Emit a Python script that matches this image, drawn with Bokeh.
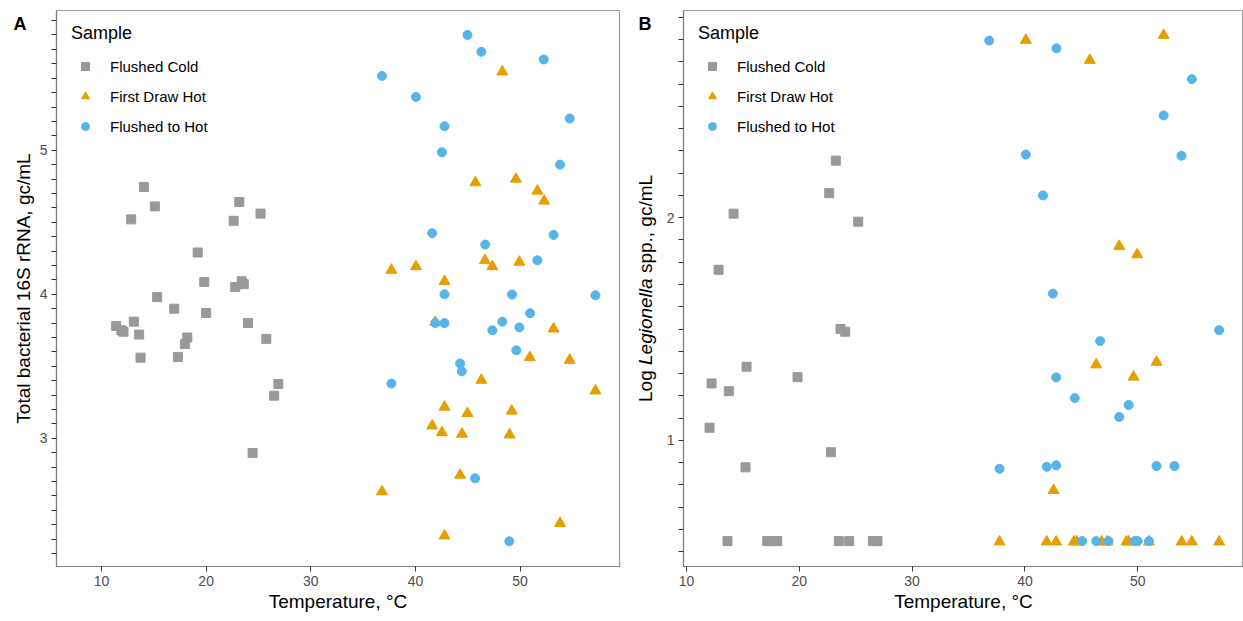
import math
import numpy as np
from bokeh.plotting import figure
from bokeh.models import Range1d, FixedTicker, Legend, LegendItem, Label
from bokeh.layouts import row
from bokeh.embed import file_html
from bokeh.resources import INLINE

FONT = "Liberation Sans"
C_COLD = "#999999"
C_FDH = "#E69F00"
C_FTH = "#56B4E9"

series_names = ["Flushed Cold", "First Draw Hot", "Flushed to Hot"]
x_ticks = [10, 20, 30, 40, 50]

# ---------------- Panel A: total bacterial 16S rRNA ----------------
cold_a_temp = [14.05, 15.1, 12.84, 23.17, 22.63, 25.2, 19.19, 19.82, 22.78, 23.4, 23.6, 15.32, 16.95, 20.0,
               24.0, 11.4, 11.9, 12.1, 13.09, 13.6, 13.73, 17.3, 17.97, 18.2, 25.75, 26.9, 26.5, 24.44]
cold_a_val = [4.745, 4.61, 4.52, 4.64, 4.51, 4.56, 4.29, 4.085, 4.05, 4.09, 4.07, 3.98, 3.90, 3.87,
              3.80, 3.78, 3.75, 3.74, 3.81, 3.72, 3.56, 3.565, 3.655, 3.70, 3.69, 3.377, 3.296, 2.898]

fdh_a_temp = [48.3, 45.73, 49.6, 51.65, 52.3, 37.7, 40.05, 46.64, 47.35, 49.93, 42.78, 41.9, 53.2, 50.93,
              54.74, 46.3, 57.2, 42.78, 44.97, 49.2, 41.6, 42.53, 44.45, 49.0, 44.27, 36.8, 53.82, 42.78]
fdh_a_val = [5.545, 4.775, 4.80, 4.717, 4.648, 4.168, 4.193, 4.235, 4.193, 4.224, 4.09, 3.805, 3.76, 3.561,
             3.543, 3.404, 3.33, 3.217, 3.173, 3.19, 3.087, 3.04, 3.03, 3.025, 2.745, 2.63, 2.41, 2.323]

fth_a_temp = [44.97, 46.3, 52.26, 36.8, 40.05, 54.74, 42.78, 42.53, 53.82, 41.6, 53.2, 46.67, 51.65, 42.78,
              49.23, 57.2, 50.96, 48.3, 41.9, 42.78, 47.35, 49.93, 49.64, 44.27, 44.43, 37.7, 45.7, 48.97]
fth_a_val = [5.80, 5.683, 5.63, 5.516, 5.37, 5.22, 5.167, 4.986, 4.90, 4.424, 4.412, 4.345, 4.236, 4.0,
             3.998, 3.993, 3.868, 3.81, 3.80, 3.80, 3.75, 3.77, 3.611, 3.519, 3.465, 3.38, 2.722, 2.285]

a_y_labels = [3, 4, 5]

# ---------------- Panel B: Legionella spp. ----------------
cold_b_temp = [23.24, 22.65, 25.22, 14.17, 12.84, 23.65, 24.07, 15.32, 12.22, 13.75, 19.84, 12.04, 22.8,
               15.23, 13.63, 17.15, 17.6, 18.04, 23.5, 24.42, 26.52, 26.93]
cold_b_val = [2.256, 2.11, 1.982, 2.018, 1.766, 1.50, 1.488, 1.331, 1.256, 1.221, 1.284, 1.057, 0.947,
              0.879, 0.548, 0.548, 0.548, 0.548, 0.548, 0.548, 0.548, 0.548]

fdh_b_temp = [40.08, 52.3, 45.75, 48.36, 49.95, 46.32, 51.67, 49.63, 42.54, 37.75, 41.94, 42.77, 44.34,
              44.6, 46.8, 47.3, 49.0, 49.2, 51.0, 53.9, 54.8, 57.22]
fdh_b_val = [2.797, 2.819, 2.707, 1.872, 1.834, 1.34, 1.352, 1.285, 0.776, 0.545, 0.545, 0.545, 0.545,
             0.545, 0.545, 0.545, 0.545, 0.545, 0.545, 0.545, 0.545, 0.545]

fth_b_temp = [36.83, 42.8, 54.8, 52.3, 40.08, 53.88, 41.6, 42.48, 57.22, 46.67, 42.77, 44.42, 49.2, 48.36,
              37.75, 41.94, 42.77, 51.67, 53.26, 45.08, 46.32, 47.41, 49.72, 50.0, 51.0]
fth_b_val = [2.795, 2.76, 2.622, 2.459, 2.283, 2.278, 2.10, 1.659, 1.495, 1.446, 1.283, 1.19, 1.159, 1.105,
             0.873, 0.882, 0.888, 0.885, 0.885, 0.548, 0.548, 0.548, 0.548, 0.548, 0.548]

b_y_labels = [1, 2]

H = 621
TOP = 10
BOTTOM = 55


def style_axes(p, y_major, y_minor):
    p.xaxis.ticker = FixedTicker(ticks=x_ticks)
    p.yaxis.ticker = FixedTicker(ticks=y_major, minor_ticks=y_minor)
    for ax in (p.xaxis[0], p.yaxis[0]):
        ax.axis_line_color = "#7F7F7F"
        ax.axis_line_width = 1.2
        ax.major_tick_line_color = "#333333"
        ax.minor_tick_line_color = "#333333"
        ax.major_tick_out = 5
        ax.major_tick_in = 0
        ax.minor_tick_out = 5
        ax.minor_tick_in = 0
        ax.major_label_standoff = 4
        ax.major_label_text_font = FONT
        ax.major_label_text_font_size = "14px"
        ax.major_label_text_color = "#4D4D4D"
        ax.axis_label_text_font = FONT
        ax.axis_label_text_font_size = "19px"
        ax.axis_label_text_font_style = "normal"
        ax.axis_label_text_color = "#000000"
    p.xaxis.axis_label = "Temperature, °C"
    p.xaxis.axis_label_standoff = 2
    p.xaxis[0].minor_tick_out = 0
    p.grid.visible = False
    p.outline_line_color = "#9A9A9A"
    p.outline_line_width = 1.2


def add_points(p, data):
    (ct, cv), (ft, fv), (ht, hv) = data
    r1 = p.scatter(ct, cv, marker="square", size=9, color=C_COLD)
    r2 = p.scatter(ft, fv, marker="triangle", size=11, color=C_FDH)
    r3 = p.scatter(ht, hv, marker="circle", size=9, color=C_FTH)
    legend = Legend(
        items=[LegendItem(label=series_names[0], renderers=[r1]),
               LegendItem(label=series_names[1], renderers=[r2]),
               LegendItem(label=series_names[2], renderers=[r3])],
        location=(19, 430), padding=0, margin=0, spacing=10,
        glyph_width=20, glyph_height=20, label_height=20, label_standoff=15,
        label_text_font=FONT, label_text_font_size="15px", label_text_color="#000000",
        border_line_color=None, background_fill_alpha=0,
    )
    p.add_layout(legend)
    p.add_layout(Label(x=p.x_range.start, y=p.y_range.end, x_offset=14.5, y_offset=-22,
                       text="Sample", text_font=FONT, text_font_size="18px",
                       text_baseline="alphabetic", text_align="left", text_color="#000000"))


def minor_list(lo, hi, major):
    vals = [round(v, 1) for v in np.arange(lo, hi + 0.001, 0.1)]
    return [v for v in vals if v not in major]


def strip(width):
    # label strip whose data units equal page pixels (y measured from the top)
    s = figure(width=width, height=H, x_range=Range1d(0, width), y_range=Range1d(H - BOTTOM, TOP),
               output_backend="svg", toolbar_location=None,
               x_axis_location=None, y_axis_location=None,
               min_border_left=0, min_border_right=0,
               min_border_top=TOP, min_border_bottom=BOTTOM,
               background_fill_color="white", border_fill_color="white")
    s.outline_line_color = None
    s.grid.visible = False
    return s


# ---- left label strip for A
sA = strip(36)
sA.add_layout(Label(x=13, y=23, text="A", text_font=FONT, text_font_size="18px",
                    text_font_style="bold", text_baseline="alphabetic", text_align="left",
                    text_color="#000000"))
sA.add_layout(Label(x=23, y=288, angle=math.pi / 2, text="Total bacterial 16S rRNA, gc/mL",
                    text_font=FONT, text_font_size="19px", text_align="center",
                    text_baseline="middle", text_color="#000000"))

# ---- figure A
pA = figure(width=592, height=H, x_range=Range1d(5.7, 59.5), y_range=Range1d(2.11, 5.97),
            output_backend="svg", toolbar_location=None,
            min_border_left=20, min_border_right=9, min_border_top=TOP, min_border_bottom=BOTTOM,
            background_fill_color="white", border_fill_color="white")
style_axes(pA, a_y_labels, minor_list(2.2, 5.9, a_y_labels))
add_points(pA, [(cold_a_temp, cold_a_val), (fdh_a_temp, fdh_a_val), (fth_a_temp, fth_a_val)])

# ---- left label strip for B
sB = strip(35)
sB.add_layout(Label(x=10, y=23, text="B", text_font=FONT, text_font_size="18px",
                    text_font_style="bold", text_baseline="alphabetic", text_align="left",
                    text_color="#000000"))
for txt, ypos, style in [("Log", 401.5, "normal"), ("Legionella", 364.5, "italic"),
                         ("spp., gc/mL", 272.6, "normal")]:
    sB.add_layout(Label(x=17, y=ypos, angle=math.pi / 2, text=txt, text_font=FONT,
                        text_font_size="19px", text_font_style=style, text_align="left",
                        text_baseline="middle", text_color="#000000"))

# ---- figure B
pB = figure(width=580, height=H, x_range=Range1d(9.73, 59.38), y_range=Range1d(0.434, 2.93),
            output_backend="svg", toolbar_location=None,
            min_border_left=20, min_border_right=0, min_border_top=TOP, min_border_bottom=BOTTOM,
            background_fill_color="white", border_fill_color="white")
style_axes(pB, b_y_labels, minor_list(0.5, 2.9, b_y_labels))
add_points(pB, [(cold_b_temp, cold_b_val), (fdh_b_temp, fdh_b_val), (fth_b_temp, fth_b_val)])

layout = row(sA, pA, sB, pB)
open("out.html", "w").write(file_html(layout, INLINE))
